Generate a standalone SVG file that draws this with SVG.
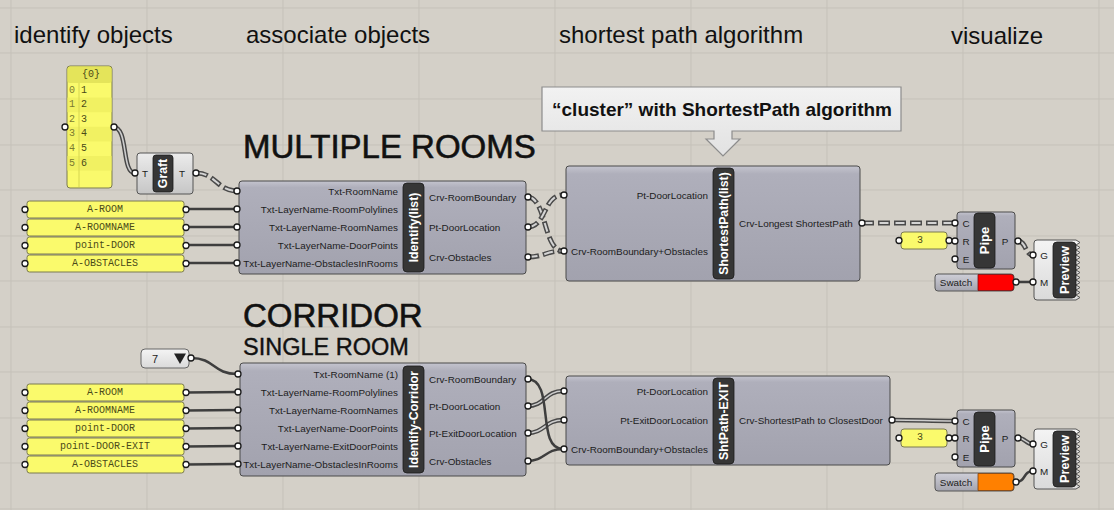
<svg xmlns="http://www.w3.org/2000/svg" width="1114" height="510" viewBox="0 0 1114 510">
<defs>
<linearGradient id="gCl" x1="0" y1="0" x2="0" y2="1"><stop offset="0" stop-color="#c4c4ce"/><stop offset="0.07" stop-color="#afafbb"/><stop offset="1" stop-color="#a2a2ae"/></linearGradient>
<linearGradient id="gLt" x1="0" y1="0" x2="0" y2="1"><stop offset="0" stop-color="#ececec"/><stop offset="1" stop-color="#c6c6c6"/></linearGradient>
<linearGradient id="gW" x1="0" y1="0" x2="0" y2="1"><stop offset="0" stop-color="#f4f4f4"/><stop offset="1" stop-color="#dadada"/></linearGradient>
<linearGradient id="gSw" x1="0" y1="0" x2="0" y2="1"><stop offset="0" stop-color="#cfcfd8"/><stop offset="1" stop-color="#a4a4ae"/></linearGradient>
<linearGradient id="gCo" x1="0" y1="0" x2="0" y2="1"><stop offset="0" stop-color="#f2f2f2"/><stop offset="1" stop-color="#e2e2e2"/></linearGradient>
<style>
.grid line{stroke:#c5c1b9;stroke-width:1}
.h{font-family:"Liberation Sans",Arial,sans-serif;font-size:24px;fill:#111}
.big{font-family:"Liberation Sans",Arial,sans-serif;font-size:33px;fill:#111;stroke:#111;stroke-width:0.6}
.cl{fill:url(#gCl);stroke:#4a4a4a;stroke-width:1}
.lt{fill:url(#gLt);stroke:#555;stroke-width:1}
.bar{fill:#363636;stroke:#1c1c1c;stroke-width:0.8}
.bt{font-family:"Liberation Sans",Arial,sans-serif;font-weight:bold;font-size:12.3px;fill:#fff;text-anchor:middle;dominant-baseline:central}
.pl{font-family:"Liberation Sans",Arial,sans-serif;font-size:9.9px;fill:#1c1c1c;dominant-baseline:central}
.pr{text-anchor:end}
.pc{text-anchor:middle}
.pan{fill:#fafa6c;stroke:#7a7a50;stroke-width:1}
.pt{font-family:"Liberation Mono","Courier New",monospace;font-size:10px;fill:#4a4a18;text-anchor:middle;dominant-baseline:central}
.grip{fill:#fff;stroke:#1a1a1a;stroke-width:1.3}
.wi{fill:none;stroke:#3e3e3e;stroke-width:2.5}
.wlo{fill:none;stroke:#474747;stroke-width:4.5}
.wli{fill:none;stroke:#cdcdcd;stroke-width:1.6}
.wto{fill:none;stroke:#4a4a4a;stroke-width:5;stroke-dasharray:12 4}
.wti{fill:none;stroke:#d4d4d4;stroke-width:2;stroke-dasharray:9 7;stroke-dashoffset:-1.5}
</style>
</defs>
<rect width="1114" height="510" fill="#d4d0c8"/>
<g class="grid">
<line x1="11" y1="0" x2="11" y2="510"/><line x1="147" y1="0" x2="147" y2="510"/><line x1="283" y1="0" x2="283" y2="510"/><line x1="419" y1="0" x2="419" y2="510"/><line x1="555" y1="0" x2="555" y2="510"/><line x1="691" y1="0" x2="691" y2="510"/><line x1="827" y1="0" x2="827" y2="510"/><line x1="963" y1="0" x2="963" y2="510"/><line x1="1099" y1="0" x2="1099" y2="510"/>
<line x1="0" y1="8" x2="1114" y2="8"/><line x1="0" y1="53" x2="1114" y2="53"/><line x1="0" y1="99" x2="1114" y2="99"/><line x1="0" y1="145" x2="1114" y2="145"/><line x1="0" y1="190" x2="1114" y2="190"/><line x1="0" y1="236" x2="1114" y2="236"/><line x1="0" y1="281" x2="1114" y2="281"/><line x1="0" y1="327" x2="1114" y2="327"/><line x1="0" y1="372" x2="1114" y2="372"/><line x1="0" y1="418" x2="1114" y2="418"/><line x1="0" y1="463" x2="1114" y2="463"/><line x1="0" y1="509" x2="1114" y2="509"/>
</g>

<g id="headings">
<text class="h" x="14" y="43">identify objects</text>
<text class="h" x="246" y="43">associate objects</text>
<text class="h" x="559" y="43">shortest path algorithm</text>
<text class="h" x="951" y="44">visualize</text>
<text class="big" x="243" y="158">MULTIPLE ROOMS</text>
<text class="big" x="243" y="327">CORRIDOR</text>
<text class="big" x="243" y="355" style="font-size:23.5px;stroke-width:0.4">SINGLE ROOM</text>
</g>

<g id="callout">
<path d="M542,87 H901 V131 H732 V139 H740 L723,156 L706,139 H714 V131 H542 Z" fill="url(#gCo)" stroke="#8c8c8c" stroke-width="1.2"/>
<text x="722" y="116" text-anchor="middle" font-family="'Liberation Sans',Arial,sans-serif" font-weight="bold" font-size="19px" fill="#111">“cluster” with ShortestPath algorithm</text>
</g>

<g id="connectors">
<path class="wlo" d="M113,127 C129,127 121,173 135,173"/><path class="wli" d="M113,127 C129,127 121,173 135,173"/>
<path class="wlo" d="M527,406 C545,406 545,391 563,391"/><path class="wli" d="M527,406 C545,406 545,391 563,391"/>
<path class="wlo" d="M527,433 C545,433 545,420 563,420"/><path class="wli" d="M527,433 C545,433 545,420 563,420"/>
<path class="wlo" d="M892,420 C920,420 928,421 955,421"/><path class="wli" d="M892,420 C920,420 928,421 955,421"/>
<path class="wlo" d="M1018,438 C1026,438 1025,444 1033,444"/><path class="wli" d="M1018,438 C1026,438 1025,444 1033,444"/>
<path class="wto" d="M196,173 C216,173 217,191 237,191"/><path class="wti" d="M196,173 C216,173 217,191 237,191"/>
<path class="wto" d="M527,197 C547,197 543,251 563,251"/><path class="wti" d="M527,197 C547,197 543,251 563,251"/>
<path class="wto" d="M527,227 C547,227 543,195 563,195"/><path class="wti" d="M527,227 C547,227 543,195 563,195"/>
<path class="wto" d="M527,257 C545,257 545,251 563,251"/><path class="wti" d="M527,257 C545,257 545,251 563,251"/>
<path class="wto" d="M862,223 H955"/><path class="wti" d="M862,223 H955"/>
<path class="wto" d="M1018,241 C1026,241 1025,255 1033,255"/><path class="wti" d="M1018,241 C1026,241 1025,255 1033,255"/>
<path class="wi" d="M186,209 H237"/><path class="wi" d="M186,227 H237"/><path class="wi" d="M186,245 H237"/><path class="wi" d="M186,263 H237"/>
<path class="wi" d="M191,358 C215,358 213,374 237,374"/>
<path class="wi" d="M186,392.5 L237,392"/><path class="wi" d="M186,410.5 L237,410"/><path class="wi" d="M186,428.5 L237,428"/><path class="wi" d="M186,446.5 L237,446"/><path class="wi" d="M186,464.5 L237,464"/>
<path class="wi" d="M527,379 C556,379 535,449 563,449"/>
<path class="wi" d="M527,461 C545,461 545,449 563,449"/>
<path class="wi" d="M949,241 H955"/><path class="wi" d="M949,438 H955"/>
<path class="wi" d="M1016,282 H1033"/>
<path class="wi" d="M1016,482 C1026,482 1023,471 1033,471"/>
</g>

<g id="panel-list">
<rect class="pan" x="67" y="66" width="45" height="122" rx="3"/>
<rect x="67.5" y="66.5" width="44" height="16.5" rx="2.5" fill="#e4e45a"/>
<rect x="67.5" y="97.6" width="44" height="14.6" fill="#f1f162"/>
<rect x="67.5" y="126.8" width="44" height="14.6" fill="#f1f162"/>
<rect x="67.5" y="156" width="44" height="14.6" fill="#f1f162"/>
<line x1="79" y1="83" x2="79" y2="187" stroke="#d6d650" stroke-width="1"/>
<text class="pt" x="91" y="74">{0}</text>
<g class="pt" style="fill:#7a7a30"><text x="72" y="90">0</text><text x="72" y="104.6">1</text><text x="72" y="119.2">2</text><text x="72" y="133.8">3</text><text x="72" y="148.4">4</text><text x="72" y="163">5</text></g>
<g class="pt" style="text-anchor:start"><text x="81" y="90">1</text><text x="81" y="104.6">2</text><text x="81" y="119.2">3</text><text x="81" y="133.8">4</text><text x="81" y="148.4">5</text><text x="81" y="163">6</text></g>
<circle class="grip" cx="65" cy="127" r="3"/><circle class="grip" cx="114" cy="127" r="3"/>
</g>

<g id="graft">
<rect class="lt" x="137" y="153" width="56" height="41" rx="3"/>
<rect class="bar" x="153" y="155" width="20" height="37" rx="3"/>
<text class="bt" transform="translate(163,173.5) rotate(-90)">Graft</text>
<text class="pl pc" x="145" y="173">T</text><text class="pl pc" x="182" y="173">T</text>
<circle class="grip" cx="135" cy="173" r="3"/><circle class="grip" cx="196" cy="173" r="3"/>
</g>

<g id="panels-top">
<rect class="pan" x="27" y="201" width="157" height="17" rx="2.5"/><text class="pt" x="105" y="209.5">A-ROOM</text>
<rect class="pan" x="27" y="219" width="157" height="17" rx="2.5"/><text class="pt" x="105" y="227.5">A-ROOMNAME</text>
<rect class="pan" x="27" y="237" width="157" height="17" rx="2.5"/><text class="pt" x="105" y="245.5">point-DOOR</text>
<rect class="pan" x="27" y="255" width="157" height="17" rx="2.5"/><text class="pt" x="105" y="263.5">A-OBSTACLES</text>
<circle class="grip" cx="25" cy="209.5" r="3"/><circle class="grip" cx="25" cy="227.5" r="3"/><circle class="grip" cx="25" cy="245.5" r="3"/><circle class="grip" cx="25" cy="263.5" r="3"/>
<circle class="grip" cx="186" cy="209.5" r="3"/><circle class="grip" cx="186" cy="227.5" r="3"/><circle class="grip" cx="186" cy="245.5" r="3"/><circle class="grip" cx="186" cy="263.5" r="3"/>
</g>

<g id="identify-list">
<rect class="cl" x="239" y="181" width="287" height="93" rx="3"/>
<rect class="bar" x="403" y="183" width="21" height="89" rx="4"/>
<text class="bt" transform="translate(413.5,227.5) rotate(-90)">Identify(list)</text>
<text class="pl pr" x="398" y="191">Txt-RoomName</text>
<text class="pl pr" x="398" y="209">Txt-LayerName-RoomPolylines</text>
<text class="pl pr" x="398" y="227">Txt-LayerName-RoomNames</text>
<text class="pl pr" x="398" y="245">Txt-LayerName-DoorPoints</text>
<text class="pl pr" x="398" y="263">Txt-LayerName-ObstaclesInRooms</text>
<text class="pl" x="429" y="197">Crv-RoomBoundary</text>
<text class="pl" x="429" y="227">Pt-DoorLocation</text>
<text class="pl" x="429" y="257">Crv-Obstacles</text>
<circle class="grip" cx="237" cy="191" r="3"/><circle class="grip" cx="237" cy="209" r="3"/><circle class="grip" cx="237" cy="227" r="3"/><circle class="grip" cx="237" cy="245" r="3"/><circle class="grip" cx="237" cy="263" r="3"/>
<circle class="grip" cx="528" cy="197" r="3"/><circle class="grip" cx="528" cy="227" r="3"/><circle class="grip" cx="528" cy="257" r="3"/>
</g>

<g id="shortestpath-list">
<rect class="cl" x="566" y="166" width="294" height="115" rx="3"/>
<rect class="bar" x="713" y="168" width="21" height="111" rx="4"/>
<text class="bt" transform="translate(723.5,223.5) rotate(-90)">ShortestPath(list)</text>
<text class="pl pr" x="708" y="195">Pt-DoorLocation</text>
<text class="pl pr" x="708" y="251">Crv-RoomBoundary+Obstacles</text>
<text class="pl" x="739" y="223">Crv-Longest ShortestPath</text>
<circle class="grip" cx="564" cy="195" r="3"/><circle class="grip" cx="564" cy="251" r="3"/>
<circle class="grip" cx="862" cy="223" r="3"/>
</g>

<g id="number-top">
<rect class="pan" x="901" y="232" width="46" height="17" rx="3"/>
<text class="pt" x="920" y="240.5">3</text>
<circle class="grip" cx="899" cy="240.5" r="3"/><circle class="grip" cx="949" cy="240.5" r="3"/>
</g>

<g id="pipe-top">
<rect class="cl" x="957" y="212" width="58" height="57" rx="3"/>
<rect class="bar" x="974" y="213" width="21" height="55" rx="4"/>
<text class="bt" style="font-size:13px" transform="translate(984.5,240.5) rotate(-90)">Pipe</text>
<text class="pl pc" x="966" y="223">C</text><text class="pl pc" x="966" y="241">R</text><text class="pl pc" x="966" y="259">E</text>
<text class="pl pc" x="1005" y="241">P</text>
<circle class="grip" cx="955" cy="223" r="3"/><circle class="grip" cx="955" cy="241" r="3"/><circle class="grip" cx="955" cy="259" r="3"/>
<circle class="grip" cx="1018" cy="241" r="3"/>
</g>

<g id="swatch-top">
<rect x="935" y="274" width="79" height="17" rx="3" fill="url(#gSw)" stroke="#555" stroke-width="1"/>
<path d="M978,274.5 H1011 Q1013.5,274.5 1013.5,277 V288 Q1013.5,290.5 1011,290.5 H978 Z" fill="#ff0000" stroke="#7a1010" stroke-width="0.8"/>
<text class="pl pc" x="956" y="282.5">Swatch</text>
<circle class="grip" cx="1016" cy="282" r="3"/>
</g>

<g id="preview-top">
<path d="M1037,240 H1076 l4,2.5 -4,2.5 4,2.5 -4,2.5 4,2.5 -4,2.5 4,2.5 -4,2.5 4,2.5 -4,2.5 4,2.5 -4,2.5 4,2.5 -4,2.5 4,2.5 -4,2.5 4,2.5 -4,2.5 4,2.5 -4,2.5 4,2.5 -4,2.5 4,2.5 -4,2.5 H1037 Q1034,300 1034,297 V243 Q1034,240 1037,240 Z" fill="url(#gW)" stroke="#555" stroke-width="1"/>
<rect class="bar" x="1053" y="242" width="23" height="56" rx="4"/>
<text class="bt" style="font-size:12.7px" transform="translate(1064.5,270) rotate(-90)">Preview</text>
<text class="pl pc" x="1044" y="255">G</text><text class="pl pc" x="1044" y="282">M</text>
<circle class="grip" cx="1033" cy="255" r="3"/><circle class="grip" cx="1033" cy="282" r="3"/>
</g>

<g id="valuelist">
<rect x="141" y="349" width="48" height="19" rx="4" fill="url(#gW)" stroke="#666" stroke-width="1"/>
<text class="pl" style="font-size:11px" x="152" y="358.5">7</text>
<polygon points="174,353.5 186,353.5 180,364" fill="#222"/>
<circle class="grip" cx="191" cy="358" r="3"/>
</g>

<g id="panels-bottom">
<rect class="pan" x="27" y="384" width="157" height="17" rx="2.5"/><text class="pt" x="105" y="392.5">A-ROOM</text>
<rect class="pan" x="27" y="402" width="157" height="17" rx="2.5"/><text class="pt" x="105" y="410.5">A-ROOMNAME</text>
<rect class="pan" x="27" y="420" width="157" height="17" rx="2.5"/><text class="pt" x="105" y="428.5">point-DOOR</text>
<rect class="pan" x="27" y="438" width="157" height="17" rx="2.5"/><text class="pt" x="105" y="446.5">point-DOOR-EXIT</text>
<rect class="pan" x="27" y="456" width="157" height="17" rx="2.5"/><text class="pt" x="105" y="464.5">A-OBSTACLES</text>
<circle class="grip" cx="25" cy="392.5" r="3"/><circle class="grip" cx="25" cy="410.5" r="3"/><circle class="grip" cx="25" cy="428.5" r="3"/><circle class="grip" cx="25" cy="446.5" r="3"/><circle class="grip" cx="25" cy="464.5" r="3"/>
<circle class="grip" cx="186" cy="392.5" r="3"/><circle class="grip" cx="186" cy="410.5" r="3"/><circle class="grip" cx="186" cy="428.5" r="3"/><circle class="grip" cx="186" cy="446.5" r="3"/><circle class="grip" cx="186" cy="464.5" r="3"/>
</g>

<g id="identify-corridor">
<rect class="cl" x="240" y="363" width="286" height="113" rx="3"/>
<rect class="bar" x="403" y="366" width="21" height="107" rx="4"/>
<text class="bt" transform="translate(413.5,419.5) rotate(-90)">Identify-Corridor</text>
<text class="pl pr" x="398" y="374">Txt-RoomName (1)</text>
<text class="pl pr" x="398" y="392">Txt-LayerName-RoomPolylines</text>
<text class="pl pr" x="398" y="410">Txt-LayerName-RoomNames</text>
<text class="pl pr" x="398" y="428">Txt-LayerName-DoorPoints</text>
<text class="pl pr" x="398" y="446">Txt-LayerName-ExitDoorPoints</text>
<text class="pl pr" x="398" y="464">Txt-LayerName-ObstaclesInRooms</text>
<text class="pl" x="429" y="379">Crv-RoomBoundary</text>
<text class="pl" x="429" y="406">Pt-DoorLocation</text>
<text class="pl" x="429" y="433">Pt-ExitDoorLocation</text>
<text class="pl" x="429" y="461">Crv-Obstacles</text>
<circle class="grip" cx="238" cy="374" r="3"/><circle class="grip" cx="238" cy="392" r="3"/><circle class="grip" cx="238" cy="410" r="3"/><circle class="grip" cx="238" cy="428" r="3"/><circle class="grip" cx="238" cy="446" r="3"/><circle class="grip" cx="238" cy="464" r="3"/>
<circle class="grip" cx="528" cy="379" r="3"/><circle class="grip" cx="528" cy="406" r="3"/><circle class="grip" cx="528" cy="433" r="3"/><circle class="grip" cx="528" cy="461" r="3"/>
</g>

<g id="shtpath-exit">
<rect class="cl" x="566" y="376" width="324" height="89" rx="3"/>
<rect class="bar" x="713" y="378" width="21" height="86" rx="4"/>
<text class="bt" transform="translate(723.5,421) rotate(-90)">ShtPath-EXIT</text>
<text class="pl pr" x="708" y="391">Pt-DoorLocation</text>
<text class="pl pr" x="708" y="420">Pt-ExitDoorLocation</text>
<text class="pl pr" x="708" y="449">Crv-RoomBoundary+Obstacles</text>
<text class="pl" x="739" y="420">Crv-ShortestPath to ClosestDoor</text>
<circle class="grip" cx="564" cy="391" r="3"/><circle class="grip" cx="564" cy="420" r="3"/><circle class="grip" cx="564" cy="449" r="3"/>
<circle class="grip" cx="892" cy="420" r="3"/>
</g>

<g id="number-bottom">
<rect class="pan" x="901" y="429" width="46" height="18" rx="3"/>
<text class="pt" x="920" y="437.5">3</text>
<circle class="grip" cx="899" cy="438" r="3"/><circle class="grip" cx="949" cy="438" r="3"/>
</g>

<g id="pipe-bottom">
<rect class="cl" x="957" y="410" width="58" height="57" rx="3"/>
<rect class="bar" x="974" y="412" width="21" height="54" rx="4"/>
<text class="bt" style="font-size:13px" transform="translate(984.5,439) rotate(-90)">Pipe</text>
<text class="pl pc" x="966" y="421">C</text><text class="pl pc" x="966" y="438">R</text><text class="pl pc" x="966" y="457">E</text>
<text class="pl pc" x="1005" y="438">P</text>
<circle class="grip" cx="955" cy="421" r="3"/><circle class="grip" cx="955" cy="438" r="3"/><circle class="grip" cx="955" cy="457" r="3"/>
<circle class="grip" cx="1018" cy="438" r="3"/>
</g>

<g id="swatch-bottom">
<rect x="935" y="473" width="79" height="18" rx="3" fill="url(#gSw)" stroke="#555" stroke-width="1"/>
<path d="M978,473.5 H1011 Q1013.5,473.5 1013.5,476 V488 Q1013.5,490.5 1011,490.5 H978 Z" fill="#ff8000" stroke="#7a4010" stroke-width="0.8"/>
<text class="pl pc" x="956" y="482">Swatch</text>
<circle class="grip" cx="1016" cy="482" r="3"/>
</g>

<g id="preview-bottom">
<path d="M1037,429 H1076 l4,2.5 -4,2.5 4,2.5 -4,2.5 4,2.5 -4,2.5 4,2.5 -4,2.5 4,2.5 -4,2.5 4,2.5 -4,2.5 4,2.5 -4,2.5 4,2.5 -4,2.5 4,2.5 -4,2.5 4,2.5 -4,2.5 4,2.5 -4,2.5 4,2.5 -4,2.5 H1037 Q1034,489 1034,486 V432 Q1034,429 1037,429 Z" fill="url(#gW)" stroke="#555" stroke-width="1"/>
<rect class="bar" x="1053" y="431" width="23" height="56" rx="4"/>
<text class="bt" style="font-size:12.7px" transform="translate(1064.5,459) rotate(-90)">Preview</text>
<text class="pl pc" x="1044" y="444">G</text><text class="pl pc" x="1044" y="471">M</text>
<circle class="grip" cx="1033" cy="444" r="3"/><circle class="grip" cx="1033" cy="471" r="3"/>
</g>
</svg>
